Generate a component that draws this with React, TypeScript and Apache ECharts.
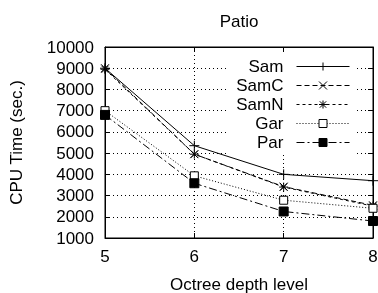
import React, { useEffect, useRef } from "react";
import * as echarts from "echarts";

const depths = [5, 6, 7, 8];
const sam = [9000, 5350, 4000, 3700];
const samC = [9000, 4950, 3420, 2540];
const samN = [8950, 4950, 3400, 2500];
const gar = [7000, 3930, 2780, 2400];
const par = [6800, 3580, 2250, 1800];
const yTicks = [1000, 10000, 1000];

const FONT = "Liberation Sans";

export default function App() {
  const ref = useRef<HTMLDivElement>(null);
  useEffect(() => {
    const chart = echarts.init(ref.current!, undefined, { renderer: "svg" });
    const plus = "path://M5,0L5,10M0,5L10,5";
    const cross = "path://M0,0L10,10M0,10L10,0";
    const star = "path://M5,0L5,10M0,5L10,5M1,1L9,9M1,9L9,1";
    const mk = (name: string, vals: number[], symbol: string, size: number, dash: any, fill: string, stroke: boolean) => ({
      name,
      type: "line",
      data: depths.map((d, i) => [d, vals[i]]),
      symbol,
      symbolSize: size,
      showAllSymbol: true,
      lineStyle: { color: "#000", width: 1, type: dash },
      itemStyle: stroke
        ? { color: "rgba(0,0,0,0)", borderColor: "#000", borderWidth: 1 }
        : { color: fill, borderColor: "#000", borderWidth: 1 },
      emphasis: { disabled: true },
      clip: true,
    });
    chart.setOption({
      animation: false,
      textStyle: { fontFamily: FONT },
      grid: {
        left: 105, right: 5, top: 47, bottom: 55, show: true, borderColor: "#000", borderWidth: 1,
        backgroundColor: "transparent", containLabel: false, outerBoundsMode: "none",
      },
      graphic: [
        { type: "text", x: 239, y: 21, style: { text: "Patio", font: `17px ${FONT}`, fill: "#000", textAlign: "center", textVerticalAlign: "middle" } },
      ],
      xAxis: [
        {
          type: "value", min: 5, max: 8, interval: 1,
          name: "Octree depth level", nameLocation: "middle", nameGap: 38,
          nameTextStyle: { fontSize: 17, color: "#000", fontFamily: FONT },
          axisLine: { lineStyle: { color: "#000" } },
          axisTick: { inside: true, length: 5, lineStyle: { color: "#000" } },
          axisLabel: { fontSize: 17, color: "#000", margin: 10, fontFamily: FONT },
          splitLine: { show: true, lineStyle: { color: "#000", type: [1, 3], width: 1 } },
        },
        {
          type: "value", min: 5, max: 8, interval: 1, position: "top",
          axisLine: { lineStyle: { color: "#000" } },
          axisTick: { inside: true, length: 5, lineStyle: { color: "#000" } },
          axisLabel: { show: false }, splitLine: { show: false },
        },
      ],
      yAxis: [
        {
          type: "value", min: yTicks[0], max: yTicks[1], interval: yTicks[2],
          name: "CPU Time (sec.)", nameLocation: "middle", nameGap: 80,
          nameTextStyle: { fontSize: 17, color: "#000", fontFamily: FONT },
          axisLine: { show: true, lineStyle: { color: "#000" } },
          axisTick: { show: true, inside: true, length: 5, lineStyle: { color: "#000" } },
          axisLabel: { fontSize: 17, color: "#000", margin: 11, fontFamily: FONT, formatter: (v: number) => String(v) },
          splitLine: { show: true, lineStyle: { color: "#000", type: [1, 3], width: 1 } },
        },
        {
          type: "value", min: yTicks[0], max: yTicks[1], interval: yTicks[2], position: "right",
          axisLine: { show: true, lineStyle: { color: "#000" } },
          axisTick: { show: true, inside: true, length: 5, lineStyle: { color: "#000" } },
          axisLabel: { show: false }, splitLine: { show: false },
        },
      ],
      legend: {
        orient: "vertical",
        right: 23,
        top: 54,
        align: "right",
        itemWidth: 53,
        itemHeight: 10,
        itemGap: 2,
        padding: [4, 5, 4, 8],
        backgroundColor: "#fff",
        lineStyle: { width: 1 },
        itemStyle: { borderWidth: 1 },
        textStyle: { fontSize: 17, color: "#000", fontFamily: FONT, lineHeight: 17, padding: [0, 8, 0, 0] },
        data: ["Sam", "SamC", "SamN", "Gar", "Par"],
      },
      series: [
        mk("Sam", sam, plus, 10, "solid", "#000", true),
        mk("SamC", samC, cross, 8, [5, 3], "#000", true),
        mk("SamN", samN, star, 9, [3, 3], "#000", true),
        mk("Gar", gar, "rect", 8, [1, 2], "#fff", false),
        mk("Par", par, "rect", 9, [8, 3, 2, 3], "#000", false),
      ],
    });
    return () => chart.dispose();
  }, []);
  return <div ref={ref} style={{ position: "fixed", left: 0, top: 0, width: 378, height: 293 }} />;
}
